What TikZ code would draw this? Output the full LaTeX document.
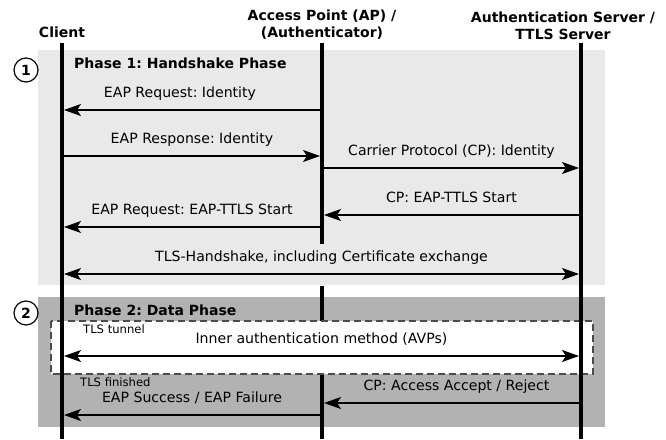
\documentclass[tikz,border=0pt]{standalone}
\usepackage{fontspec}
\setmainfont{DejaVu Sans}
\usetikzlibrary{arrows.meta}
\frenchspacing

\definecolor{phaseone}{RGB}{233,233,233}
\definecolor{phasetwo}{RGB}{178,178,178}
\tikzset{
	tip/.tip={Stealth[length=17pt, width=12pt, inset=4pt]},
	msg/.style={line width=1.2pt, -tip, shorten >=2pt},
	twoway/.style={line width=1.2pt, tip-tip, shorten >=2pt, shorten <=2pt},
	life/.style={line width=4pt},
	lbl/.style={font=\fontsize{14.1}{17}\selectfont, inner sep=0pt, text depth=0pt, above=12pt},
	head/.style={font=\fontsize{14}{17}\selectfont\bfseries, inner sep=0pt, align=center},
	phase/.style={font=\fontsize{14}{17}\selectfont\bfseries, inner sep=0pt, anchor=base west},
	small/.style={font=\fontsize{11.6}{14}\selectfont, inner sep=0pt, anchor=base west},
	num/.style={circle, draw, line width=1.2pt, minimum size=24pt, inner sep=0pt, font=\fontsize{14}{17}\selectfont\bfseries},
}

\begin{document}
\begin{tikzpicture}[x=1pt, y=-1pt]
	\useasboundingbox (0,0) rectangle (666,439);
	% phase backgrounds
	\fill [phaseone] (38,50) rectangle (605,285);
	\fill [phasetwo] (38,297) rectangle (605,427);
	% parties
	\node [head, anchor=base] (client) at (62,37) {Client};
	\node [head, anchor=south] (ap) at (322,40) {Access Point (AP) /\\(Authenticator)};
	\node [head, anchor=south] (as) at (563,40) {Authentication Server /\\TTLS Server};
	% rows of the messages
	\foreach \name/\y in {top/43, r1/110, r2/156, r3/168, r4/215, r5/227, apgap/244, r6/274, apback/286, r7/356, r8/403, r9/415, bot/439}
		\coordinate (\name) at (0,\y);
	\coordinate (asline) at (581,0);
	% lifelines
	\draw [life] (ap |- top) -- (ap |- apgap);
	\draw [life] (ap |- apback) -- (ap |- bot);
	\draw [dashed, dash pattern=on 7pt off 4pt, line width=1.2pt, draw=black!70, fill=white] (51,321) rectangle (593,374);
	\draw [life] (client |- top) -- (client |- bot);
	\draw [life] (asline |- top) -- (asline |- bot);
	% phase 1
	\node [num] (n1) at (26,70) {1};
	\node [phase] (p1) at (74,68) {Phase 1: Handshake Phase};
	\draw [msg] (ap |- r1) -- (client |- r1) node [lbl, midway, xshift=-12pt] {EAP Request: Identity};
	\draw [msg] (client |- r2) -- (ap |- r2) node [lbl, midway] {EAP Response: Identity};
	\draw [msg] (ap |- r3) -- (asline |- r3) node [lbl, midway] {Carrier Protocol (CP): Identity};
	\draw [msg] (asline |- r4) -- (ap |- r4) node [lbl, midway] {CP: EAP-TTLS Start};
	\draw [msg] (ap |- r5) -- (client |- r5) node [lbl, midway] {EAP Request: EAP-TTLS Start};
	\draw [twoway] (client |- r6) -- (asline |- r6) node [lbl, midway] {TLS-Handshake, including Certificate exchange};
	% phase 2
	\node [num] (n2) at (26,313) {2};
	\node [phase] (p2) at (74,315) {Phase 2: Data Phase};
	\node [small] (tunnel) at (83,333) {TLS tunnel};
	\draw [twoway] (client |- r7) -- (asline |- r7) node [lbl, midway] {Inner authentication method (AVPs)};
	\node [small] (finished) at (80,386) {TLS finished};
	\draw [msg] (asline |- r8) -- (ap |- r8) node [lbl, midway, xshift=5pt] {CP: Access Accept / Reject};
	\draw [msg] (ap |- r9) -- (client |- r9) node [lbl, midway] {EAP Success / EAP Failure};
\end{tikzpicture}
\end{document}
